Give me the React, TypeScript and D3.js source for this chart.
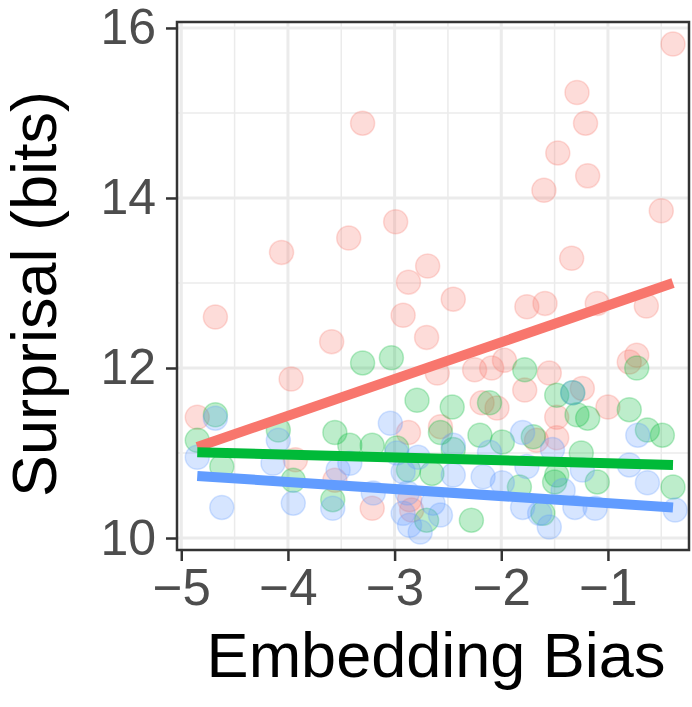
import React, { useEffect, useRef } from "react";
import * as d3 from "d3";

// axis ticks
const xTicks = [-5, -4, -3, -2, -1];
const yTicks = [10, 12, 14, 16];
const xMinor = [-4.5, -3.5, -2.5, -1.5, -0.5];
const yMinor = [11, 13, 15];

// red group
const redX = [-3.30, -4.06, -3.43, -2.99, -2.69, -0.39, -1.29, -1.21, -1.47, -1.19, -1.60, -0.50, -1.34, -4.68, -2.87, -2.92, -2.70, -3.59, -3.97, -2.45, -1.76, -1.59, -1.10, -0.64, -2.25, -2.09, -1.97, -1.55, -0.80, -0.73, -2.60, -1.78, -1.24, -2.18, -2.04, -1.00, -1.48, -2.57, -1.67, -1.48, -4.85, -2.87, -3.93, -3.21, -2.86, -3.56, -2.84];
const redY = [14.88, 13.36, 13.53, 13.72, 13.20, 15.81, 15.24, 14.88, 14.53, 14.26, 14.09, 13.85, 13.29, 12.60, 13.01, 12.62, 12.36, 12.31, 11.87, 12.81, 12.72, 12.76, 12.76, 12.73, 11.98, 12.00, 12.09, 11.94, 12.07, 12.15, 11.94, 11.74, 11.76, 11.59, 11.53, 11.54, 11.42, 11.31, 11.15, 11.18, 11.42, 11.24, 10.92, 10.35, 10.45, 10.68, 10.33];

// green group
const greenX = [-3.30, -3.03, -2.79, -3.56, -4.68, -4.85, -4.09, -4.62, -3.95, -3.42, -3.21, -2.98, -3.58, -2.70, -2.46, -2.20, -1.99, -2.11, -2.57, -2.65, -2.28, -1.48, -1.33, -1.19, -1.29, -0.80, -0.63, -0.49, -1.70, -1.25, -1.50, -1.10, -0.39, -1.61, -1.78, -0.73, -1.48, -1.83, -2.87, -2.45];
const greenY = [12.06, 12.12, 11.62, 11.24, 11.45, 11.15, 11.27, 10.84, 10.68, 11.09, 11.09, 11.06, 10.45, 10.21, 11.54, 11.21, 11.13, 11.59, 11.24, 10.76, 10.21, 11.68, 11.71, 11.41, 11.45, 11.51, 11.27, 11.21, 11.19, 11.00, 10.66, 10.66, 10.60, 10.29, 11.98, 12.00, 10.74, 10.60, 10.80, 11.04];

// blue group
const blueX = [-4.85, -4.62, -4.68, -4.14, -3.95, -4.09, -3.58, -3.53, -3.42, -3.04, -2.98, -2.92, -3.20, -2.92, -2.88, -2.76, -2.64, -2.45, -2.45, -2.17, -2.11, -1.80, -1.80, -2.78, -0.72, -0.80, -0.63, -0.37, -1.55, -1.64, -1.52, -1.24, -1.12, -1.31, -1.42, -1.33, -1.99, -1.76, -2.86, -2.57];
const blueY = [10.95, 10.36, 11.41, 10.88, 10.41, 11.15, 10.35, 10.80, 10.88, 11.35, 11.00, 10.29, 10.53, 10.78, 10.53, 10.07, 10.41, 10.74, 11.09, 10.72, 11.01, 11.24, 10.36, 10.95, 11.21, 10.86, 10.65, 10.33, 10.13, 10.29, 11.04, 10.80, 10.35, 10.36, 10.56, 11.71, 10.65, 10.84, 10.15, 10.27];

// fitted lines (ends)
const fitX = [-4.85, -0.39];
const fitRed = [11.07, 13.0];
const fitGreen = [11.01, 10.86];
const fitBlue = [10.73, 10.36];

const App = () => {
  const ref = useRef(null);

  useEffect(() => {
    const W = 692;
    const H = 707;
    const panel = { left: 177, right: 689, top: 22, bottom: 550 };
    const font = "'Liberation Sans', Arial, Helvetica, sans-serif";

    d3.select(ref.current).selectAll("*").remove();
    const svg = d3
      .select(ref.current)
      .append("svg")
      .attr("width", W)
      .attr("height", H)
      .style("position", "absolute")
      .style("left", "0px")
      .style("top", "0px")
      .style("background", "white");

    const x = d3.scaleLinear().domain([-5.04, -0.24]).range([panel.left, panel.right]);
    const y = d3.scaleLinear().domain([9.859, 16.07]).range([panel.bottom, panel.top]);

    // grid
    const grid = svg.append("g");
    grid.selectAll(".xmin").data(xMinor).enter().append("line")
      .attr("x1", (d) => x(d)).attr("x2", (d) => x(d))
      .attr("y1", panel.top).attr("y2", panel.bottom)
      .attr("stroke", "#ebebeb").attr("stroke-width", 1.5);
    grid.selectAll(".ymin").data(yMinor).enter().append("line")
      .attr("y1", (d) => y(d)).attr("y2", (d) => y(d))
      .attr("x1", panel.left).attr("x2", panel.right)
      .attr("stroke", "#ebebeb").attr("stroke-width", 1.5);
    grid.selectAll(".xmaj").data(xTicks).enter().append("line")
      .attr("x1", (d) => x(d)).attr("x2", (d) => x(d))
      .attr("y1", panel.top).attr("y2", panel.bottom)
      .attr("stroke", "#ebebeb").attr("stroke-width", 3);
    grid.selectAll(".ymaj").data(yTicks).enter().append("line")
      .attr("y1", (d) => y(d)).attr("y2", (d) => y(d))
      .attr("x1", panel.left).attr("x2", panel.right)
      .attr("stroke", "#ebebeb").attr("stroke-width", 3);

    // points
    const groups = [
      { xs: redX, ys: redY, color: "#F8766D" },
      { xs: greenX, ys: greenY, color: "#00BA38" },
      { xs: blueX, ys: blueY, color: "#619CFF" },
    ];
    groups.forEach((g) => {
      svg.append("g").selectAll("circle")
        .data(g.xs.map((v, i) => [v, g.ys[i]]))
        .enter().append("circle")
        .attr("cx", (d) => x(d[0]))
        .attr("cy", (d) => y(d[1]))
        .attr("r", 12)
        .attr("fill", g.color).attr("fill-opacity", 0.26)
        .attr("stroke", g.color).attr("stroke-opacity", 0.26)
        .attr("stroke-width", 1.5);
    });

    // fit lines
    const line = d3.line().x((d) => x(d[0])).y((d) => y(d[1]));
    [
      { ys: fitRed, color: "#F8766D" },
      { ys: fitGreen, color: "#00BA38" },
      { ys: fitBlue, color: "#619CFF" },
    ].forEach((f) => {
      svg.append("path")
        .datum(fitX.map((v, i) => [v, f.ys[i]]))
        .attr("fill", "none")
        .attr("stroke", f.color)
        .attr("stroke-width", 10)
        .attr("d", line);
    });

    // panel border
    svg.append("rect")
      .attr("x", panel.left).attr("y", panel.top)
      .attr("width", panel.right - panel.left)
      .attr("height", panel.bottom - panel.top)
      .attr("fill", "none").attr("stroke", "#333333").attr("stroke-width", 2.5);

    // x axis
    const xAxis = svg.append("g")
      .attr("transform", `translate(0,${panel.bottom})`)
      .call(d3.axisBottom(x).tickValues(xTicks).tickSize(11).tickPadding(8));
    xAxis.select(".domain").remove();
    xAxis.selectAll("line").attr("stroke", "#333333").attr("stroke-width", 2.5);
    xAxis.selectAll("text")
      .attr("fill", "#4d4d4d")
      .style("font-family", font)
      .style("font-size", "51px")
      .text((d) => d3.format("d")(d).replace("-", "\u2212"));

    // y axis
    const yAxis = svg.append("g")
      .attr("transform", `translate(${panel.left},0)`)
      .call(d3.axisLeft(y).tickValues(yTicks).tickSize(11).tickPadding(10).tickFormat(d3.format("d")));
    yAxis.select(".domain").remove();
    yAxis.selectAll("line").attr("stroke", "#333333").attr("stroke-width", 2.5);
    yAxis.selectAll("text")
      .attr("fill", "#4d4d4d")
      .style("font-family", font)
      .style("font-size", "50px");

    // axis titles
    svg.append("text")
      .attr("x", (panel.left + panel.right) / 2 + 3)
      .attr("y", 677)
      .attr("text-anchor", "middle")
      .style("font-family", font)
      .style("font-size", "63px")
      .attr("fill", "black")
      .text("Embedding Bias");

    svg.append("text")
      .attr("transform", `translate(56,${(panel.top + panel.bottom) / 2 + 8}) rotate(-90)`)
      .attr("text-anchor", "middle")
      .style("font-family", font)
      .style("font-size", "63px")
      .attr("fill", "black")
      .text("Surprisal (bits)");
  }, []);

  return <div ref={ref}></div>;
};

export default App;
